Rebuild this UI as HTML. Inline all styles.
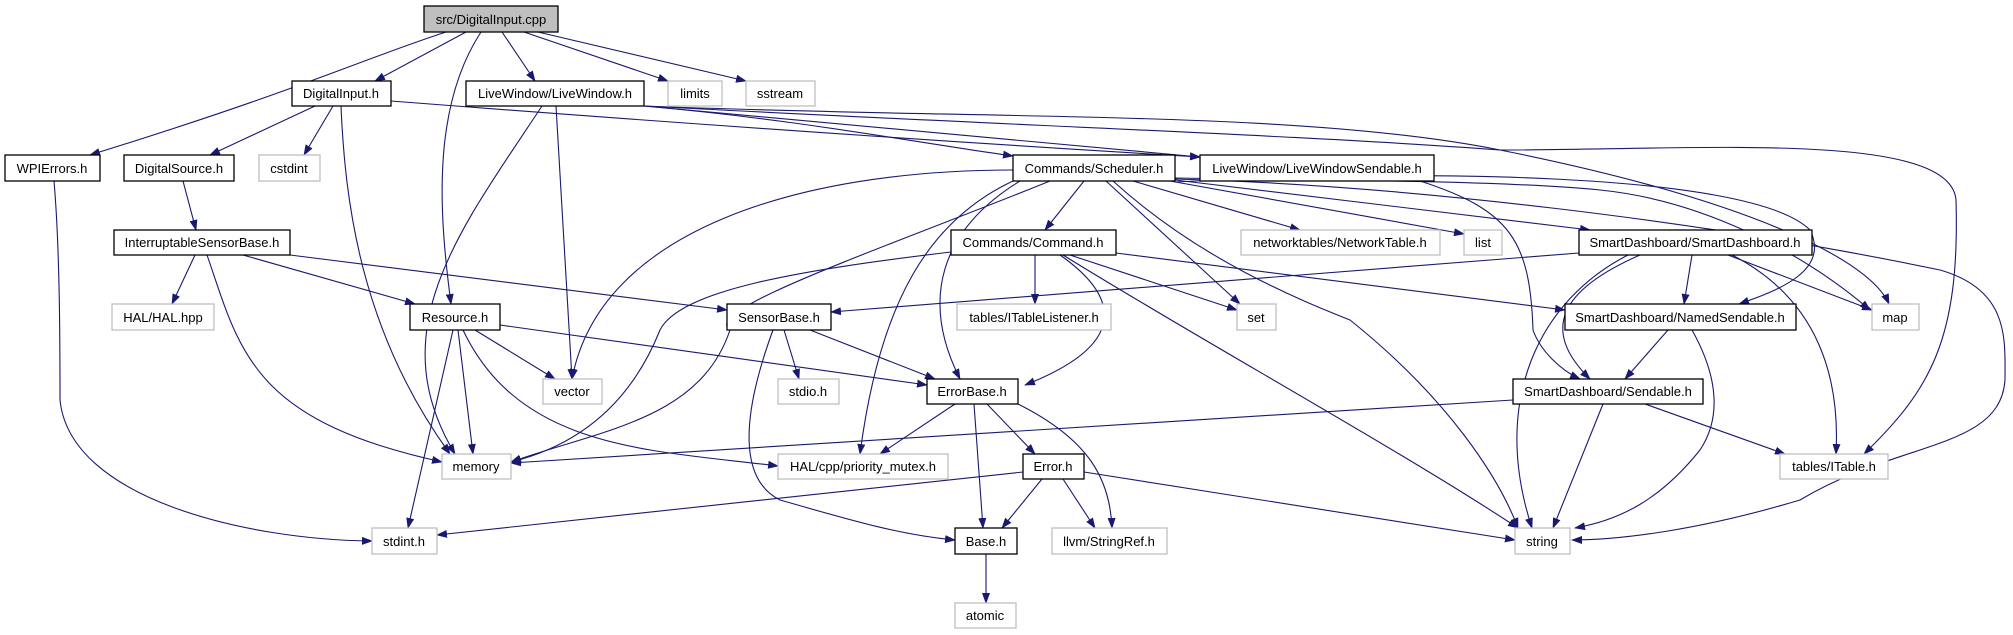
<!DOCTYPE html>
<html><head><meta charset="utf-8"><style>
html,body{margin:0;padding:0;background:#fff;}
svg{display:block;}
text{font-family:"Liberation Sans",sans-serif;font-size:13px;fill:#000;}
</style></head><body>
<svg width="2013" height="635" viewBox="0 0 2013 635" xmlns="http://www.w3.org/2000/svg">
<defs>
<marker id="a" markerWidth="11" markerHeight="8" refX="10" refY="4" orient="auto" markerUnits="userSpaceOnUse">
<path d="M0,0 L11,4 L0,8 Z" fill="#191970"/></marker>
</defs>
<g fill="none" stroke="#191970" stroke-width="1.1" marker-end="url(#a)">
<!-- src -->
<path d="M446,32 C360,60 300,90 90,155"/>
<path d="M466,32 L375,81"/>
<path d="M481,32 C430,110 440,220 451,304"/>
<path d="M502,32 L535,81"/>
<path d="M524,32 L668,81"/>
<path d="M538,32 L746,81"/>
<!-- DigitalInput.h -->
<path d="M315,106 L210,155"/>
<path d="M333,106 L304,155"/>
<path d="M341,106 C345,200 360,330 450,454"/>
<path d="M391,101 C700,125 1000,145 1200,157"/>
<!-- LiveWindow.h -->
<path d="M542,106 C460,230 380,330 455,454"/>
<path d="M556,106 L572,379"/>
<path d="M644,106 C800,120 900,140 1013,156"/>
<path d="M644,106 C900,130 1050,145 1200,157"/>
<path d="M644,106 C1000,120 1300,110 1500,150 C1750,200 1870,260 1889,304"/>
<path d="M644,106 C1000,125 1300,135 1500,150 C1700,150 1950,130 1956,200 C1960,340 1930,390 1864,454"/>
<!-- WPIErrors -->
<path d="M54,181 C60,250 60,350 60,400 C70,500 250,540 372,541"/>
<!-- DigitalSource -->
<path d="M183,181 L196,230"/>
<!-- ISB -->
<path d="M195,255 L172,304"/>
<path d="M207,255 C240,350 250,420 442,462"/>
<path d="M243,255 L415,304"/>
<path d="M290,255 L727,310"/>
<!-- Resource -->
<path d="M475,330 L555,379"/>
<path d="M458,330 L473,454"/>
<path d="M453,330 L408,528"/>
<path d="M463,330 C520,450 650,450 778,466"/>
<path d="M500,325 L927,385"/>
<!-- Scheduler -->
<path d="M1013,170 C800,170 600,230 572,379"/>
<path d="M1050,181 C880,250 700,310 730,330 C700,420 600,430 511,462"/>
<path d="M1013,181 C930,220 880,300 860,454"/>
<path d="M1020,181 C940,230 920,300 960,379"/>
<path d="M1084,181 L1045,230"/>
<path d="M1106,181 L1240,304"/>
<path d="M1113,181 C1200,260 1300,300 1350,320 C1450,400 1500,480 1518,528"/>
<path d="M1133,181 L1300,230"/>
<path d="M1170,181 L1464,234"/>
<path d="M1175,180 L1590,230"/>
<path d="M1175,182 C1400,170 1750,170 1810,230 C1830,270 1780,290 1739,304"/>
<path d="M1175,178 C1300,180 1500,180 1600,190 C1700,200 1800,250 1870,310"/>
<path d="M1175,179 C1400,185 1700,220 1940,270 C2010,290 2005,340 2005,380 C2000,450 1900,440 1800,500 C1700,530 1620,540 1572,540"/>
<!-- LiveWindowSendable -->
<path d="M1420,181 C1510,210 1530,240 1533,330 C1540,350 1560,370 1580,379"/>
<!-- Command -->
<path d="M951,252 C800,270 680,290 660,330 C640,380 600,440 511,462"/>
<path d="M1035,255 L1035,304"/>
<path d="M1060,255 C1110,290 1140,340 1025,385"/>
<path d="M1070,255 L1237,310"/>
<path d="M1063,255 C1200,340 1400,450 1518,528"/>
<path d="M1116,253 L1565,310"/>
<!-- SensorBase -->
<path d="M784,330 L799,379"/>
<path d="M810,330 L935,379"/>
<path d="M773,330 C740,420 740,480 780,500 C850,520 900,535 955,540"/>
<!-- ErrorBase -->
<path d="M955,404 L880,454"/>
<path d="M974,404 L983,528"/>
<path d="M987,404 L1035,454"/>
<path d="M1018,404 C1090,440 1110,480 1112,528"/>
<!-- Error -->
<path d="M1023,472 L437,535"/>
<path d="M1042,479 L1002,528"/>
<path d="M1063,479 L1095,528"/>
<path d="M1084,472 L1515,540"/>
<!-- Base -->
<path d="M986,554 L986,603"/>
<!-- SmartDashboard.h -->
<path d="M1579,253 L831,312"/>
<path d="M1692,255 L1684,304"/>
<path d="M1640,255 C1560,290 1540,330 1590,379"/>
<path d="M1628,255 C1540,300 1490,400 1532,528"/>
<path d="M1728,255 L1872,310"/>
<path d="M1732,255 C1820,300 1840,380 1836,454"/>
<!-- NamedSendable -->
<path d="M1668,330 L1625,379"/>
<path d="M1692,330 C1720,380 1720,420 1700,450 C1660,500 1620,520 1575,528"/>
<!-- Sendable -->
<path d="M1513,400 L511,463"/>
<path d="M1603,404 L1553,528"/>
<path d="M1645,404 L1785,454"/>
</g>
<g stroke-width="1.3">
<rect x="424" y="6" width="134" height="26" fill="#bfbfbf" stroke="#000"/>
<rect x="292" y="81" width="99" height="25" fill="#fff" stroke="#000"/>
<rect x="466" y="81" width="178" height="25" fill="#fff" stroke="#000"/>
<rect x="668" y="81" width="54" height="25" fill="#fff" stroke="#bfbfbf"/>
<rect x="746" y="81" width="69" height="25" fill="#fff" stroke="#bfbfbf"/>
<rect x="5" y="155" width="95" height="26" fill="#fff" stroke="#000"/>
<rect x="124" y="155" width="110" height="26" fill="#fff" stroke="#000"/>
<rect x="259" y="155" width="61" height="26" fill="#fff" stroke="#bfbfbf"/>
<rect x="1013" y="155" width="162" height="26" fill="#fff" stroke="#000"/>
<rect x="1200" y="155" width="234" height="26" fill="#fff" stroke="#000"/>
<rect x="114" y="230" width="176" height="25" fill="#fff" stroke="#000"/>
<rect x="951" y="230" width="165" height="25" fill="#fff" stroke="#000"/>
<rect x="1241" y="230" width="199" height="25" fill="#fff" stroke="#bfbfbf"/>
<rect x="1464" y="230" width="38" height="25" fill="#fff" stroke="#bfbfbf"/>
<rect x="1579" y="230" width="233" height="25" fill="#fff" stroke="#000"/>
<rect x="112" y="304" width="102" height="26" fill="#fff" stroke="#bfbfbf"/>
<rect x="410" y="304" width="90" height="26" fill="#fff" stroke="#000"/>
<rect x="727" y="304" width="104" height="26" fill="#fff" stroke="#000"/>
<rect x="957" y="304" width="154" height="26" fill="#fff" stroke="#bfbfbf"/>
<rect x="1237" y="304" width="39" height="26" fill="#fff" stroke="#bfbfbf"/>
<rect x="1565" y="304" width="231" height="26" fill="#fff" stroke="#000"/>
<rect x="1872" y="304" width="47" height="26" fill="#fff" stroke="#bfbfbf"/>
<rect x="543" y="379" width="59" height="25" fill="#fff" stroke="#bfbfbf"/>
<rect x="778" y="379" width="61" height="25" fill="#fff" stroke="#bfbfbf"/>
<rect x="927" y="379" width="91" height="25" fill="#fff" stroke="#000"/>
<rect x="1513" y="379" width="190" height="25" fill="#fff" stroke="#000"/>
<rect x="442" y="454" width="69" height="25" fill="#fff" stroke="#bfbfbf"/>
<rect x="778" y="454" width="170" height="25" fill="#fff" stroke="#bfbfbf"/>
<rect x="1023" y="454" width="61" height="25" fill="#fff" stroke="#000"/>
<rect x="1780" y="454" width="108" height="25" fill="#fff" stroke="#bfbfbf"/>
<rect x="372" y="528" width="65" height="26" fill="#fff" stroke="#bfbfbf"/>
<rect x="955" y="528" width="62" height="26" fill="#fff" stroke="#000"/>
<rect x="1052" y="528" width="115" height="26" fill="#fff" stroke="#bfbfbf"/>
<rect x="1515" y="528" width="55" height="26" fill="#fff" stroke="#bfbfbf"/>
<rect x="955" y="603" width="61" height="25" fill="#fff" stroke="#bfbfbf"/>
</g>
<g text-anchor="middle">
<text x="491" y="24">src/DigitalInput.cpp</text>
<text x="341" y="98">DigitalInput.h</text>
<text x="555" y="98">LiveWindow/LiveWindow.h</text>
<text x="695" y="98">limits</text>
<text x="780" y="98">sstream</text>
<text x="52" y="173">WPIErrors.h</text>
<text x="179" y="173">DigitalSource.h</text>
<text x="289" y="173">cstdint</text>
<text x="1094" y="173">Commands/Scheduler.h</text>
<text x="1317" y="173">LiveWindow/LiveWindowSendable.h</text>
<text x="202" y="247">InterruptableSensorBase.h</text>
<text x="1033" y="247">Commands/Command.h</text>
<text x="1340" y="247">networktables/NetworkTable.h</text>
<text x="1483" y="247">list</text>
<text x="1695" y="247">SmartDashboard/SmartDashboard.h</text>
<text x="163" y="322">HAL/HAL.hpp</text>
<text x="455" y="322">Resource.h</text>
<text x="779" y="322">SensorBase.h</text>
<text x="1034" y="322">tables/ITableListener.h</text>
<text x="1256" y="322">set</text>
<text x="1680" y="322">SmartDashboard/NamedSendable.h</text>
<text x="1895" y="322">map</text>
<text x="572" y="396">vector</text>
<text x="808" y="396">stdio.h</text>
<text x="972" y="396">ErrorBase.h</text>
<text x="1608" y="396">SmartDashboard/Sendable.h</text>
<text x="476" y="471">memory</text>
<text x="863" y="471">HAL/cpp/priority_mutex.h</text>
<text x="1053" y="471">Error.h</text>
<text x="1834" y="471">tables/ITable.h</text>
<text x="404" y="546">stdint.h</text>
<text x="986" y="546">Base.h</text>
<text x="1109" y="546">llvm/StringRef.h</text>
<text x="1542" y="546">string</text>
<text x="985" y="620">atomic</text>
</g>
</svg>
</body></html>
